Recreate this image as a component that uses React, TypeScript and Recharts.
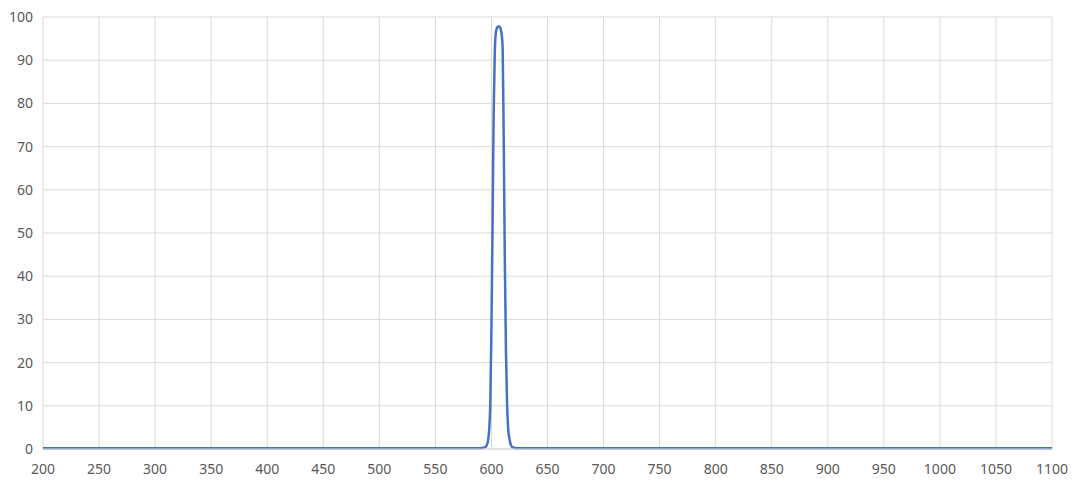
import { LineChart, Line, XAxis, YAxis, CartesianGrid } from "recharts";

// wavelength (nm) and transmission (%)
const wavelengths = [
  200, 300, 400, 500, 550, 580, 590, 593, 594, 595, 596, 597, 598, 599, 600,
  601, 602, 603, 604, 605, 606, 607, 608, 609, 610, 611, 612, 613, 614, 615,
  616, 617, 618, 619, 620, 622, 625, 650, 700, 800, 900, 1000, 1100,
];
const transmission = [
  0.2, 0.2, 0.2, 0.2, 0.2, 0.2, 0.2, 0.3, 0.4, 0.5, 1, 2, 4.5, 11, 28,
  52, 78, 92, 96.5, 97.5, 97.8, 97.8, 97.4, 96.2, 93, 70, 42, 22, 10, 4.5,
  2.5, 1.2, 0.6, 0.4, 0.3, 0.2, 0.2, 0.2, 0.2, 0.2, 0.2, 0.2, 0.2,
];
const xTicks = [
  200, 250, 300, 350, 400, 450, 500, 550, 600, 650, 700, 750, 800, 850, 900,
  950, 1000, 1050, 1100,
];
const yTicks = [0, 10, 20, 30, 40, 50, 60, 70, 80, 90, 100];

const data = wavelengths.map((wl, i) => ({ wl, value: transmission[i] }));

const tickStyle = { fill: "#595959", fontSize: 14, fontFamily: "'Noto Sans', sans-serif" };

export default function App() {
  return (
    <div style={{ width: 1076, height: 487, background: "#fff" }}>
      <style>{"body{margin:0}"}</style>
      <LineChart
        width={1076}
        height={487}
        data={data}
        margin={{ top: 17, right: 24, bottom: 8, left: 0 }}
      >
        <CartesianGrid stroke="#d9d9d9" strokeWidth={1} />
        <XAxis
          dataKey="wl"
          type="number"
          domain={[200, 1100]}
          ticks={xTicks}
          interval={0}
          height={30}
          tickSize={0}
          tickMargin={15}
          tickLine={false}
          axisLine={{ stroke: "#d9d9d9" }}
          tick={tickStyle}
        />
        <YAxis
          type="number"
          domain={[0, 100]}
          ticks={yTicks}
          interval={0}
          width={43}
          tickSize={0}
          tickMargin={10}
          tickLine={false}
          axisLine={false}
          tick={tickStyle}
        />
        <Line
          dataKey="value"
          type="monotone"
          stroke="#4472c4"
          strokeWidth={2.5}
          dot={false}
          isAnimationActive={false}
        />
      </LineChart>
    </div>
  );
}
